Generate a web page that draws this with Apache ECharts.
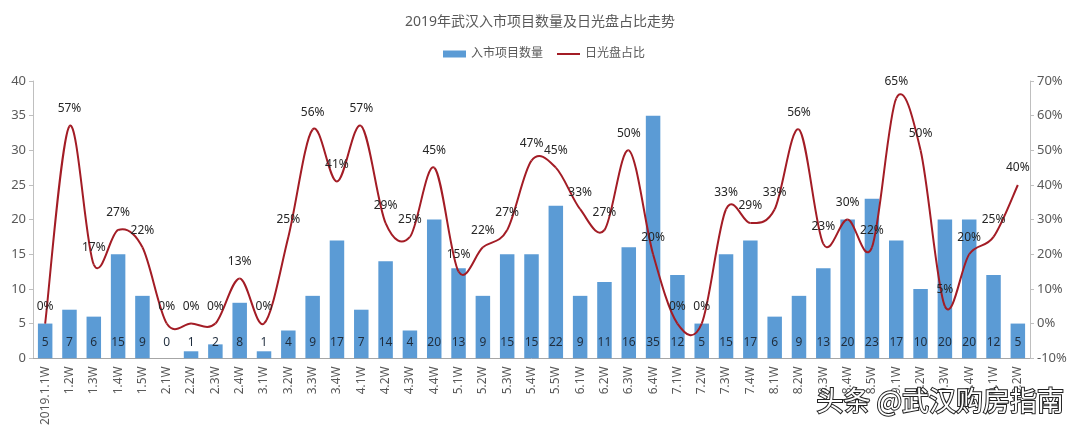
<!DOCTYPE html>
<html>
<head>
<meta charset="utf-8">
<title>2019年武汉入市项目数量及日光盘占比走势</title>
<script src="https://cdn.jsdelivr.net/npm/echarts@6/dist/echarts.min.js"></script>
<style>
html, body { margin: 0; padding: 0; background: #fff; }
#chart1 { width: 1080px; height: 428px; }
</style>
</head>
<body>
<div id="chart1"></div>
<script>
var weeks = ['2019.1.1W','1.2W','1.3W','1.4W','1.5W','2.1W','2.2W','2.3W','2.4W','3.1W','3.2W','3.3W','3.4W','4.1W','4.2W','4.3W','4.4W','5.1W','5.2W','5.3W','5.4W','5.5W','6.1W','6.2W','6.3W','6.4W','7.1W','7.2W','7.3W','7.4W','8.1W','8.2W','8.3W','8.4W','8.5W','9.1W','9.2W','9.3W','9.4W','10.1W','10.2W'];
var projects = [5,7,6,15,9,0,1,2,8,1,4,9,17,7,14,4,20,13,9,15,15,22,9,11,16,35,12,5,15,17,6,9,13,20,23,17,10,20,20,12,5];   // 入市项目数量
var sunRatio = [0,57,17,27,22,0,0,0,13,0,25,56,41,57,29,25,45,15,22,27,47,45,33,27,50,20,0,0,33,29,33,56,23,30,22,65,50,5,20,25,40];  // 日光盘占比 %

var textColor = '#595959';
var lineColor = '#a31c25';
var fontName = '"Noto Sans", "Noto Sans CJK SC", sans-serif';

var myChart1 = echarts.init(document.getElementById('chart1'));

// Excel style smooth curve: one bezier per segment, it may overshoot the points
function renderCurve(params, api) {
    var i = params.dataIndex;
    if (i >= sunRatio.length - 1) {
        return null;
    }
    var p = function (k) {
        k = Math.max(0, Math.min(sunRatio.length - 1, k));
        return api.coord([k, sunRatio[k]]);
    };
    var p0 = p(i - 1), p1 = p(i), p2 = p(i + 1), p3 = p(i + 2);
    return {
        type: 'bezierCurve',
        shape: {
            x1: p1[0], y1: p1[1],
            x2: p2[0], y2: p2[1],
            cpx1: p1[0] + (p2[0] - p0[0]) / 6,
            cpy1: p1[1] + (p2[1] - p0[1]) / 6,
            cpx2: p2[0] - (p3[0] - p1[0]) / 6,
            cpy2: p2[1] - (p3[1] - p1[1]) / 6
        },
        style: { stroke: lineColor, lineWidth: 2, fill: null }
    };
}

var option1 = {
    animation: false,
    backgroundColor: '#fff',
    textStyle: { fontFamily: fontName },
    title: {
        text: '2019年武汉入市项目数量及日光盘占比走势',
        left: 'center',
        top: 10,
        textStyle: { color: textColor, fontSize: 14, fontWeight: 'normal', fontFamily: fontName }
    },
    legend: {
        top: 43,
        left: 438,
        itemWidth: 23,
        itemHeight: 7,
        itemGap: 14,
        textStyle: { color: textColor, fontSize: 12, fontFamily: fontName },
        data: [
            { name: '入市项目数量', icon: 'rect' },
            { name: '日光盘占比', icon: 'path://M0 0H23V2H0Z', itemStyle: { color: lineColor } }
        ]
    },
    grid: { left: 33, right: 50, top: 81, bottom: 69 },
    xAxis: [{
        type: 'category',
        data: weeks,
        axisTick: { show: false },
        axisLine: { lineStyle: { color: '#a6a6a6' } },
        axisLabel: { rotate: 90, interval: 0, color: textColor, fontSize: 12, margin: 8 }
    }],
    yAxis: [{
        type: 'value',
        min: 0,
        max: 40,
        interval: 5,
        splitLine: { show: false },
        axisLine: { show: true, lineStyle: { color: '#bfbfbf' } },
        axisTick: { show: true, length: 4, lineStyle: { color: '#bfbfbf' } },
        axisLabel: { color: textColor, fontSize: 13, margin: 7 }
    }, {
        type: 'value',
        min: -10,
        max: 70,
        interval: 10,
        splitLine: { show: false },
        axisLine: { show: true, lineStyle: { color: '#bfbfbf' } },
        axisTick: { show: true, length: 4, lineStyle: { color: '#bfbfbf' } },
        axisLabel: { color: textColor, fontSize: 13, margin: 7, formatter: '{value}%' }
    }],
    graphic: [{
        type: 'text',
        right: 15,
        top: 386,
        z: 100,
        style: {
            text: '头条 @武汉购房指南',
            fill: '#fff',
            stroke: '#222',
            lineWidth: 2,
            font: '27px "Noto Sans CJK SC", sans-serif'
        }
    }],
    series: [{
        name: '入市项目数量',
        type: 'bar',
        yAxisIndex: 0,
        barWidth: 14.5,
        z: 1,
        itemStyle: { color: '#5b9bd5' },
        label: {
            show: true,
            position: 'insideBottom',
            distance: 10,
            color: '#1f2d3d',
            fontSize: 12
        },
        data: projects
    }, {
        name: '曲线',
        type: 'custom',
        xAxisIndex: 0,
        yAxisIndex: 1,
        z: 5,
        clip: false,
        renderItem: renderCurve,
        data: sunRatio.map(function (v, i) { return [i, v]; })
    }, {
        // the curve is drawn by the custom series, this one carries legend and labels
        name: '日光盘占比',
        type: 'line',
        yAxisIndex: 1,
        z: 6,
        symbol: 'circle',
        symbolSize: 0,
        showAllSymbol: true,
        lineStyle: { color: lineColor, width: 0 },
        itemStyle: { color: lineColor },
        label: {
            show: true,
            position: 'top',
            distance: 11,
            color: '#262626',
            fontSize: 12,
            formatter: '{c}%'
        },
        data: sunRatio
    }]
};

myChart1.setOption(option1);
</script>
</body>
</html>
